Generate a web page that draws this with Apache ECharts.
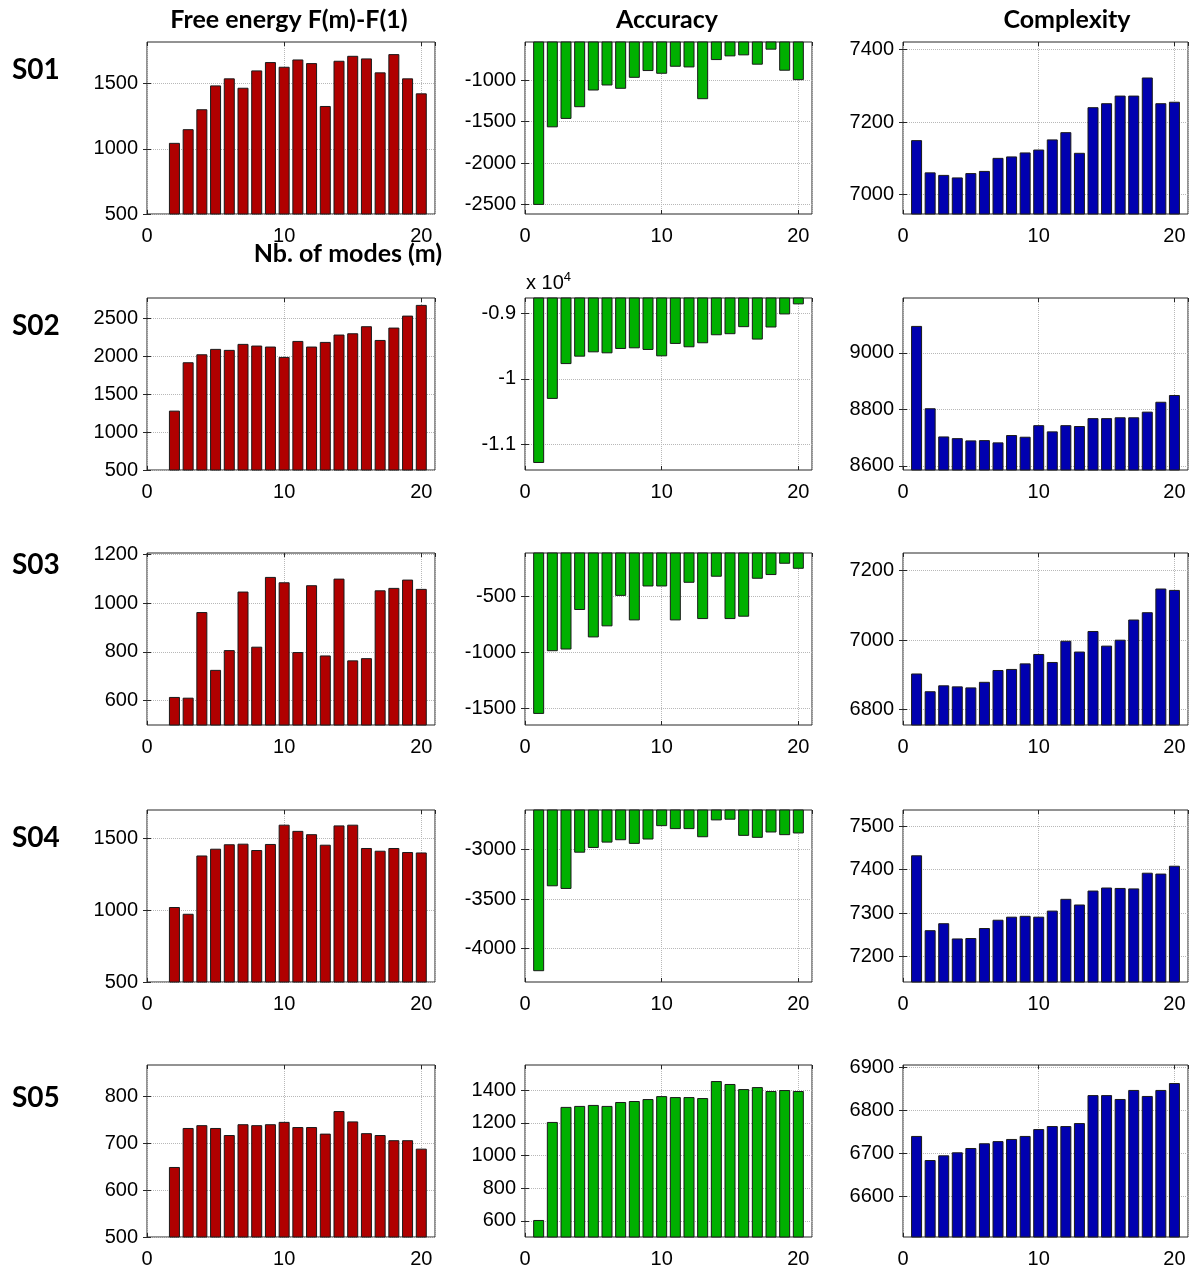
<!DOCTYPE html>
<html lang="en">
<head>
  <meta charset="UTF-8">
  <title>Free energy / Accuracy / Complexity</title>
  <style>
    body, html {
      background: #fff;
      margin: 0;
      padding: 0;
    }
    #main {
      width: 1199px;
      height: 1269px;
    }
  </style>
</head>
<body>
  <div id="main"></div>
</body>
<script src="https://cdn.jsdelivr.net/npm/echarts@6/dist/echarts.min.js"></script>
<script>
  // number of modes m
  var modes = [1, 2, 3, 4, 5, 6, 7, 8, 9, 10, 11, 12, 13, 14, 15, 16, 17, 18, 19, 20];
  var subjects = ['S01', 'S02', 'S03', 'S04', 'S05'];

  // free energy F(m)-F(1) (no bar for m=1)
  var freeS01 = [null, 1046, 1151, 1304, 1487, 1541, 1469, 1602, 1666, 1630, 1686, 1658, 1329, 1676, 1714, 1694, 1587, 1727, 1541, 1426];
  var freeS02 = [null, 1283, 1921, 2026, 2097, 2084, 2163, 2141, 2128, 1991, 2202, 2128, 2189, 2286, 2303, 2396, 2215, 2378, 2536, 2677];
  var freeS03 = [null, 615, 612, 963, 726, 807, 1047, 821, 1107, 1085, 799, 1073, 785, 1100, 765, 774, 1052, 1062, 1096, 1058];
  var freeS04 = [null, 1021, 974, 1379, 1426, 1457, 1461, 1417, 1459, 1593, 1550, 1527, 1454, 1588, 1593, 1431, 1412, 1431, 1403, 1400];
  var freeS05 = [null, 649, 732, 738, 732, 717, 740, 738, 740, 745, 734, 734, 720, 768, 746, 721, 717, 706, 706, 688];

  // accuracy
  var accS01 = [-2508, -1568, -1466, -1324, -1122, -1061, -1101, -968, -886, -919, -834, -842, -1227, -753, -708, -696, -809, -627, -882, -996];
  var accS02 = [-11281, -10306, -9776, -9663, -9597, -9612, -9546, -9536, -9561, -9658, -9469, -9520, -9459, -9337, -9321, -9214, -9403, -9219, -9020, -8867];
  var accS03 = [-1551, -991, -976, -623, -868, -769, -497, -716, -413, -413, -716, -380, -704, -326, -704, -683, -344, -311, -210, -255];
  var accS04 = [-4227, -3370, -3397, -3031, -2983, -2929, -2905, -2942, -2898, -2763, -2793, -2793, -2875, -2705, -2698, -2861, -2881, -2827, -2854, -2837];
  var accS05 = [606, 1205, 1297, 1303, 1309, 1303, 1327, 1333, 1345, 1363, 1357, 1357, 1351, 1455, 1437, 1406, 1418, 1394, 1400, 1394];

  // complexity
  var cplxS01 = [7150, 7061, 7054, 7047, 7059, 7065, 7101, 7105, 7116, 7124, 7152, 7172, 7115, 7241, 7252, 7273, 7273, 7323, 7252, 7256];
  var cplxS02 = [9096, 8804, 8704, 8698, 8690, 8691, 8683, 8709, 8703, 8744, 8722, 8744, 8741, 8769, 8769, 8772, 8772, 8792, 8827, 8851];
  var cplxS03 = [6904, 6853, 6870, 6867, 6864, 6880, 6914, 6917, 6933, 6960, 6937, 6998, 6967, 7026, 6984, 7001, 7059, 7080, 7148, 7144];
  var cplxS04 = [7433, 7261, 7277, 7242, 7243, 7266, 7285, 7292, 7294, 7292, 7306, 7333, 7320, 7352, 7359, 7358, 7357, 7393, 7391, 7409];
  var cplxS05 = [6740, 6684, 6695, 6702, 6712, 6723, 6728, 6733, 6740, 6756, 6763, 6763, 6770, 6835, 6835, 6826, 6847, 6833, 6847, 6863];

  // y ranges and tick labels, row by row: [free, accuracy, complexity]
  var yRanges = [
    [[500, 1820], [-2618, -534], [6946, 7421]],
    [[500, 2768], [-11388, -8770], [8585, 9195]],
    [[500, 1205], [-1650, -114], [6756, 7250]],
    [[500, 1695], [-4336, -2600], [7142, 7537]],
    [[500, 866], [502, 1553], [6505, 6905]]
  ];
  var yTicks = [
    [[500, 1000, 1500], [-2500, -2000, -1500, -1000], [7000, 7200, 7400]],
    [[500, 1000, 1500, 2000, 2500], [-11000, -10000, -9000], [8600, 8800, 9000]],
    [[600, 800, 1000, 1200], [-1500, -1000, -500], [6800, 7000, 7200]],
    [[500, 1000, 1500], [-4000, -3500, -3000], [7200, 7300, 7400, 7500]],
    [[500, 600, 700, 800], [600, 800, 1000, 1200, 1400], [6600, 6700, 6800, 6900]]
  ];

  var table = [
    [freeS01, accS01, cplxS01],
    [freeS02, accS02, cplxS02],
    [freeS03, accS03, cplxS03],
    [freeS04, accS04, cplxS04],
    [freeS05, accS05, cplxS05]
  ];

  // layout
  var colLeft = [147, 525, 903];
  var colWidth = [288, 287, 285];
  var rowTop = [42, 298, 553, 810, 1065];
  var plotH = 172;
  var barColor = ['#b00000', '#00b000', '#0000b0'];
  var axisFont = 'Liberation Sans';
  var boxColor = '#262626';

  var grids = [], xAxes = [], yAxes = [], series = [];

  for (var r = 0; r < 5; r++) {
    for (var c = 0; c < 3; c++) {
      var i = grids.length;
      var rng = yRanges[r][c];
      var ticks = yTicks[r][c];
      var scaled = (r === 1 && c === 1);  // x 10^4 panel
      grids.push({
        left: colLeft[c], top: rowTop[r], width: colWidth[c], height: plotH,
        show: true, borderColor: boxColor, borderWidth: 1, backgroundColor: '#fff'
      });
      // bottom / top x axis
      xAxes.push({
        gridIndex: i, type: 'value', min: 0, max: 21, interval: 10,
        axisLine: { show: false },
        axisTick: { inside: true, length: 4, lineStyle: { color: boxColor } },
        axisLabel: { fontSize: 20, color: '#000', fontFamily: axisFont, margin: 12, showMaxLabel: false },
        splitLine: { show: true, lineStyle: { type: 'dotted', color: '#b8b8b8' } }
      });
      xAxes.push({
        gridIndex: i, type: 'value', min: 0, max: 21, interval: 10, position: 'top',
        axisLine: { show: false },
        axisTick: { inside: true, length: 4, lineStyle: { color: boxColor } },
        axisLabel: { show: false },
        splitLine: { show: false }
      });
      // left / right y axis
      yAxes.push({
        gridIndex: i, type: 'value', min: rng[0], max: rng[1],
        axisLine: { show: false },
        axisTick: { inside: true, length: 4, customValues: ticks, lineStyle: { color: boxColor } },
        axisLabel: {
          customValues: ticks, fontSize: 20, color: '#000', fontFamily: axisFont, margin: 9,
          formatter: scaled ? function (v) { return String(v / 10000); } : function (v) { return String(v); }
        },
        splitLine: { show: true, lineStyle: { type: 'dotted', color: '#b8b8b8' } }
      });
      yAxes.push({
        gridIndex: i, type: 'value', min: rng[0], max: rng[1], position: 'right',
        axisLine: { show: false },
        axisTick: { inside: true, length: 4, customValues: ticks, lineStyle: { color: boxColor } },
        axisLabel: { show: false },
        splitLine: { show: false }
      });
      var vals = table[r][c];
      series.push({
        type: 'bar',
        name: subjects[r] + '-' + c,
        xAxisIndex: 2 * i,
        yAxisIndex: 2 * i,
        barWidth: 11,
        clip: true,
        itemStyle: { color: barColor[c], borderColor: '#1a1a1a', borderWidth: 1 },
        data: modes.map(function (m, k) { return [m, vals[k]]; })
      });
    }
  }

  var headFont = 'bold 25px Lato, "Open Sans", sans-serif';
  var texts = [
    { type: 'text', x: 289, y: 20, style: { text: 'Free energy F(m)-F(1)', font: headFont, fill: '#000', textAlign: 'center', textVerticalAlign: 'middle' } },
    { type: 'text', x: 667, y: 20, style: { text: 'Accuracy', font: headFont, fill: '#000', textAlign: 'center', textVerticalAlign: 'middle' } },
    { type: 'text', x: 1067, y: 20, style: { text: 'Complexity', font: headFont, fill: '#000', textAlign: 'center', textVerticalAlign: 'middle' } },
    { type: 'text', x: 348, y: 254, style: { text: 'Nb. of modes (m)', font: headFont, fill: '#000', textAlign: 'center', textVerticalAlign: 'middle' } },
    { type: 'text', x: 526, y: 283, style: {
        text: 'x 10{sup|4}', font: '20px "Liberation Sans"', fill: '#000', textAlign: 'left', textVerticalAlign: 'middle',
        rich: { sup: { fontSize: 13, fontFamily: 'Liberation Sans', verticalAlign: 'top', padding: [0, 0, 12, 0] } }
      } }
  ];
  var labelY = [70, 326, 565, 838, 1098];
  subjects.forEach(function (s, k) {
    texts.push({ type: 'text', x: 12, y: labelY[k], style: { text: s, font: 'bold 28px Lato, "Open Sans", sans-serif', fill: '#000', textAlign: 'left', textVerticalAlign: 'middle' } });
  });

  var myChart = echarts.init(document.getElementById('main'));
  myChart.setOption({
    animation: false,
    grid: grids,
    xAxis: xAxes,
    yAxis: yAxes,
    series: series,
    graphic: texts
  });
</script>
</html>
